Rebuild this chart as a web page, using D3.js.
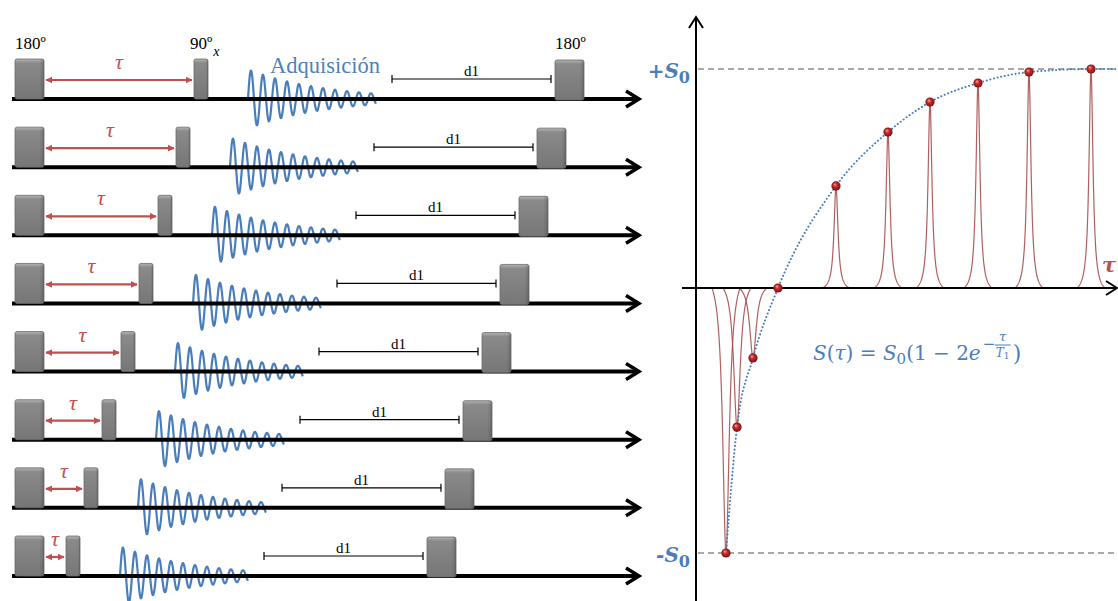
<!DOCTYPE html>
<html><head><meta charset="utf-8">
<script src="https://cdn.jsdelivr.net/npm/d3@7"></script>
<style>body{margin:0;background:#fff;} svg{display:block;}</style>
</head><body>
<svg id="chart" width="1118" height="601"></svg>
<script>
// Inversion-recovery experiments: 180º – τ – 90ºx – acquisition – d1, one per row
const rowTau = [150, 132, 114, 95, 77, 58, 40, 22];
// Recovered signal (units of S0) measured at each delay τ
const curveTau = [30, 41, 57, 82, 140, 192, 234, 282, 333, 395];
const curveSignal = [-1, -0.525, -0.264, 0, 0.466, 0.712, 0.849, 0.936, 0.986, 1.0];
// Dotted recovery trend continues flat at +S0 to the right edge
const trendTau = [30, 41, 57, 82, 140, 192, 234, 282, 333, 395, 422];
const trendSignal = [-1, -0.525, -0.264, 0, 0.466, 0.712, 0.849, 0.936, 0.986, 1.0, 1.0];
const levelValues = [1, -1];
const levelLabels = ["+S", "-S"];
const pulseLabels = ["180º", "90º", "180º"];
const acqLabel = "Adquisición";
const delayLabel = "d1";

// sequence timing (time units)
const W180 = 29, W90 = 14, FID_DELAY = 40, FID_LEN = 128, D1_OFFSET = 184, D1_LEN = 159, FINAL_GAP = 4;
const PULSE_H = 40;

const svg = d3.select("#chart");
const defs = svg.append("defs");

const pg = defs.append("linearGradient").attr("id", "pulseGrad").attr("x1", 0).attr("x2", 0).attr("y1", 0).attr("y2", 1);
pg.append("stop").attr("offset", "0%").attr("stop-color", "#b5b5b5");
pg.append("stop").attr("offset", "10%").attr("stop-color", "#8a8a8a");
pg.append("stop").attr("offset", "100%").attr("stop-color", "#767676");
const ph = defs.append("linearGradient").attr("id", "pulseSide").attr("x1", 0).attr("x2", 1).attr("y1", 0).attr("y2", 0);
ph.append("stop").attr("offset", "0%").attr("stop-color", "#000").attr("stop-opacity", 0.0);
ph.append("stop").attr("offset", "85%").attr("stop-color", "#000").attr("stop-opacity", 0.0);
ph.append("stop").attr("offset", "100%").attr("stop-color", "#000").attr("stop-opacity", 0.18);

const bg = defs.append("radialGradient").attr("id", "ball").attr("fx", "35%").attr("fy", "30%");
bg.append("stop").attr("offset", "0%").attr("stop-color", "#f3a3a0");
bg.append("stop").attr("offset", "45%").attr("stop-color", "#c62a2a");
bg.append("stop").attr("offset", "100%").attr("stop-color", "#7a1212");

const tauColor = "#c0504d";
["tauStart", "tauEnd"].forEach((id, k) => {
  defs.append("marker").attr("id", id).attr("viewBox", "0 0 10 10")
    .attr("refX", k ? 9 : 1).attr("refY", 5).attr("markerWidth", 3.2).attr("markerHeight", 3.2)
    .attr("orient", "auto")
    .append("path").attr("d", k ? "M0,0 L10,5 L0,10 Z" : "M10,0 L0,5 L10,10 Z").attr("fill", tauColor);
});

// ---------------- left: pulse sequences ----------------
const seqX = d3.scaleLinear().domain([0, 625]).range([15, 640]);
const rowY = d3.scalePoint().domain(d3.range(rowTau.length)).range([99, 576]);
const serif = "'Liberation Serif', 'DejaVu Serif', serif";

function pulse(g, t0, w, base) {
  g.append("rect").attr("x", seqX(t0)).attr("y", base - PULSE_H).attr("width", seqX(t0 + w) - seqX(t0))
    .attr("height", PULSE_H).attr("rx", 2).attr("fill", "url(#pulseGrad)").attr("stroke", "#6b6b6b").attr("stroke-width", 0.8);
  g.append("rect").attr("x", seqX(t0)).attr("y", base - PULSE_H).attr("width", seqX(t0 + w) - seqX(t0))
    .attr("height", PULSE_H).attr("rx", 2).attr("fill", "url(#pulseSide)");
}

const fidLine = d3.line().curve(d3.curveBasis);

rowTau.forEach((tau, i) => {
  const base = rowY(i);
  const g = svg.append("g");
  const t90 = W180 + tau;
  const tFid = t90 + W90 + FID_DELAY;
  const tD1 = t90 + W90 + D1_OFFSET;
  const tFinal = tD1 + D1_LEN + FINAL_GAP;

  // free induction decay
  const pts = d3.range(0, FID_LEN + 0.01, 0.5).map(u => {
    const a = 30 * Math.exp(-u / 75);
    return [seqX(tFid + u), base - a * Math.sin(2 * Math.PI * u / 12)];
  });
  g.append("path").attr("d", fidLine(pts)).attr("fill", "none").attr("stroke", "#4a7ebb").attr("stroke-width", 2.2);

  // time axis with arrow
  g.append("line").attr("x1", seqX(-3)).attr("x2", seqX(622)).attr("y1", base).attr("y2", base)
    .attr("stroke", "#000").attr("stroke-width", 4);
  g.append("polyline").attr("points", `${seqX(611)},${base - 8} ${seqX(624)},${base} ${seqX(611)},${base + 8}`)
    .attr("fill", "none").attr("stroke", "#000").attr("stroke-width", 3.5).attr("stroke-linejoin", "miter");

  pulse(g, 0, W180, base);
  pulse(g, t90, W90, base);
  pulse(g, tFinal, W180, base + 1);

  // τ delay arrow
  g.append("line").attr("x1", seqX(W180 + 2)).attr("x2", seqX(t90 - 2)).attr("y1", base - 19).attr("y2", base - 19)
    .attr("stroke", tauColor).attr("stroke-width", 2.2)
    .attr("marker-start", "url(#tauStart)").attr("marker-end", "url(#tauEnd)");
  g.append("text").attr("x", seqX(W180 + tau / 2)).attr("y", base - 30).attr("text-anchor", "middle")
    .attr("font-family", serif).attr("font-style", "italic").attr("font-size", 22).attr("fill", tauColor).text("τ");

  // d1 relaxation delay
  const dy = base - 20;
  g.append("path").attr("d", `M${seqX(tD1)},${dy - 4}V${dy + 4}M${seqX(tD1)},${dy}H${seqX(tD1 + D1_LEN)}M${seqX(tD1 + D1_LEN)},${dy - 4}V${dy + 4}`)
    .attr("stroke", "#000").attr("stroke-width", 1.2).attr("fill", "none");
  g.append("text").attr("x", seqX(tD1 + D1_LEN / 2)).attr("y", dy - 3).attr("text-anchor", "middle")
    .attr("font-family", serif).attr("font-size", 15).attr("fill", "#000").text(delayLabel);

  if (i === 0) {
    g.append("text").attr("x", seqX(0)).attr("y", base - 50).attr("font-family", serif).attr("font-size", 17).text(pulseLabels[0]);
    const t = g.append("text").attr("x", seqX(t90 - 4)).attr("y", base - 50).attr("font-family", serif).attr("font-size", 17);
    t.append("tspan").text(pulseLabels[1]);
    t.append("tspan").attr("font-style", "italic").attr("font-size", 14).attr("dx", 1).attr("dy", 7).text("x");
    g.append("text").attr("x", seqX(tFinal)).attr("y", base - 50).attr("font-family", serif).attr("font-size", 17).text(pulseLabels[2]);
    g.append("text").attr("x", seqX(tFid + 22)).attr("y", base - 26).attr("font-family", serif).attr("font-size", 22.5)
      .attr("fill", "#4f81bd").text(acqLabel);
  }
});

// ---------------- right: recovery curve ----------------
const xS = d3.scaleLinear().domain([0, 422]).range([696, 1118]);
const yS = d3.scaleLinear().domain([-1, 0, 1]).range([553, 288, 69]);
const blue = "#4a7ebb";
const cambria = "'DejaVu Serif', 'Liberation Serif', serif";

// reference levels ±S0
levelValues.forEach(v => {
  svg.append("line").attr("x1", xS(2)).attr("x2", xS(422)).attr("y1", yS(v)).attr("y2", yS(v))
    .attr("stroke", "#8c8c8c").attr("stroke-width", 1.3).attr("stroke-dasharray", "6,4");
});
levelValues.forEach((v, k) => {
  const t = svg.append("text").attr("x", xS(-6)).attr("y", yS(v) + 9).attr("text-anchor", "end")
    .attr("font-family", cambria).attr("font-weight", "bold").attr("font-size", 20).attr("fill", blue);
  t.append("tspan").attr("font-style", "italic").text(levelLabels[k]);
  t.append("tspan").attr("font-size", 16).attr("dy", 5).text("0");
});

// spectral lines: one Lorentzian per delay, scaled to its signal
const HALF_BASE = 14;
const lor = (dx, g) => g * g / (g * g + dx * dx);
const peakLine = d3.line();
curveTau.forEach((tau, i) => {
  const s = curveSignal[i];
  if (s === 0) return;
  const g = s < 0 ? 4 : 2.4;
  const edge = lor(HALF_BASE, g);
  const pts = d3.range(-HALF_BASE, HALF_BASE + 0.01, 0.25).map(dx => {
    const f = (lor(dx, g) - edge) / (1 - edge);
    return [xS(tau + dx), yS(s * f)];
  });
  svg.append("path").attr("d", peakLine(pts)).attr("fill", "none")
    .attr("stroke", "#a24444").attr("stroke-opacity", 0.85).attr("stroke-width", 1.2);
});

// axes
svg.append("line").attr("x1", 682).attr("x2", 1116).attr("y1", yS(0)).attr("y2", yS(0)).attr("stroke", "#000").attr("stroke-width", 2);
svg.append("polyline").attr("points", `1106,${yS(0) - 7} 1117,${yS(0)} 1106,${yS(0) + 7}`)
  .attr("fill", "none").attr("stroke", "#000").attr("stroke-width", 2);
svg.append("line").attr("x1", xS(0)).attr("x2", xS(0)).attr("y1", 601).attr("y2", 17).attr("stroke", "#000").attr("stroke-width", 2);
svg.append("polyline").attr("points", `${xS(0) - 7},28 ${xS(0)},17 ${xS(0) + 7},28`)
  .attr("fill", "none").attr("stroke", "#000").attr("stroke-width", 2);

// recovery trend
const trend = d3.line().x((d, i) => xS(trendTau[i])).y(d => yS(d)).curve(d3.curveMonotoneX);
svg.append("path").attr("d", trend(trendSignal)).attr("fill", "none").attr("stroke", blue)
  .attr("stroke-width", 2).attr("stroke-dasharray", "0.1,3.6").attr("stroke-linecap", "round");

// measured points
svg.selectAll("circle.pt").data(curveSignal).join("circle").attr("class", "pt")
  .attr("cx", (d, i) => xS(curveTau[i])).attr("cy", d => yS(d)).attr("r", 4.6).attr("fill", "url(#ball)");

// τ axis label
svg.append("text").attr("x", 1102).attr("y", 272).attr("font-family", cambria).attr("font-style", "italic")
  .attr("font-weight", "bold").attr("font-size", 21).attr("fill", tauColor).text("τ");

// S(τ) = S0(1 − 2e^(−τ/T1))
const f = svg.append("text").attr("x", 813).attr("y", 360).attr("font-family", cambria).attr("font-size", 20).attr("fill", blue);
f.append("tspan").attr("font-style", "italic").text("S");
f.append("tspan").text("(");
f.append("tspan").attr("font-style", "italic").text("τ");
f.append("tspan").text(") = ");
f.append("tspan").attr("font-style", "italic").text("S");
f.append("tspan").attr("font-size", 15).attr("dy", 4).text("0");
f.append("tspan").attr("dy", -4).text("(1 − 2");
f.append("tspan").attr("font-style", "italic").text("e");
const fx = 813 + f.node().getComputedTextLength();
svg.append("text").attr("x", fx + 2).attr("y", 349).attr("font-family", cambria).attr("font-size", 15).attr("fill", blue).text("−");
const fracX = fx + 22;
svg.append("text").attr("x", fracX).attr("y", 341).attr("text-anchor", "middle").attr("font-family", cambria)
  .attr("font-style", "italic").attr("font-size", 13).attr("fill", blue).text("τ");
svg.append("line").attr("x1", fracX - 8).attr("x2", fracX + 8).attr("y1", 345).attr("y2", 345).attr("stroke", blue).attr("stroke-width", 1);
const tt = svg.append("text").attr("x", fracX).attr("y", 357).attr("text-anchor", "middle").attr("font-family", cambria)
  .attr("font-size", 12).attr("fill", blue);
tt.append("tspan").attr("font-style", "italic").text("T");
tt.append("tspan").attr("font-size", 9).attr("dy", 2).text("1");
svg.append("text").attr("x", fracX + 10).attr("y", 361).attr("font-family", cambria).attr("font-size", 22).attr("fill", blue).text(")");
</script>
</body></html>
